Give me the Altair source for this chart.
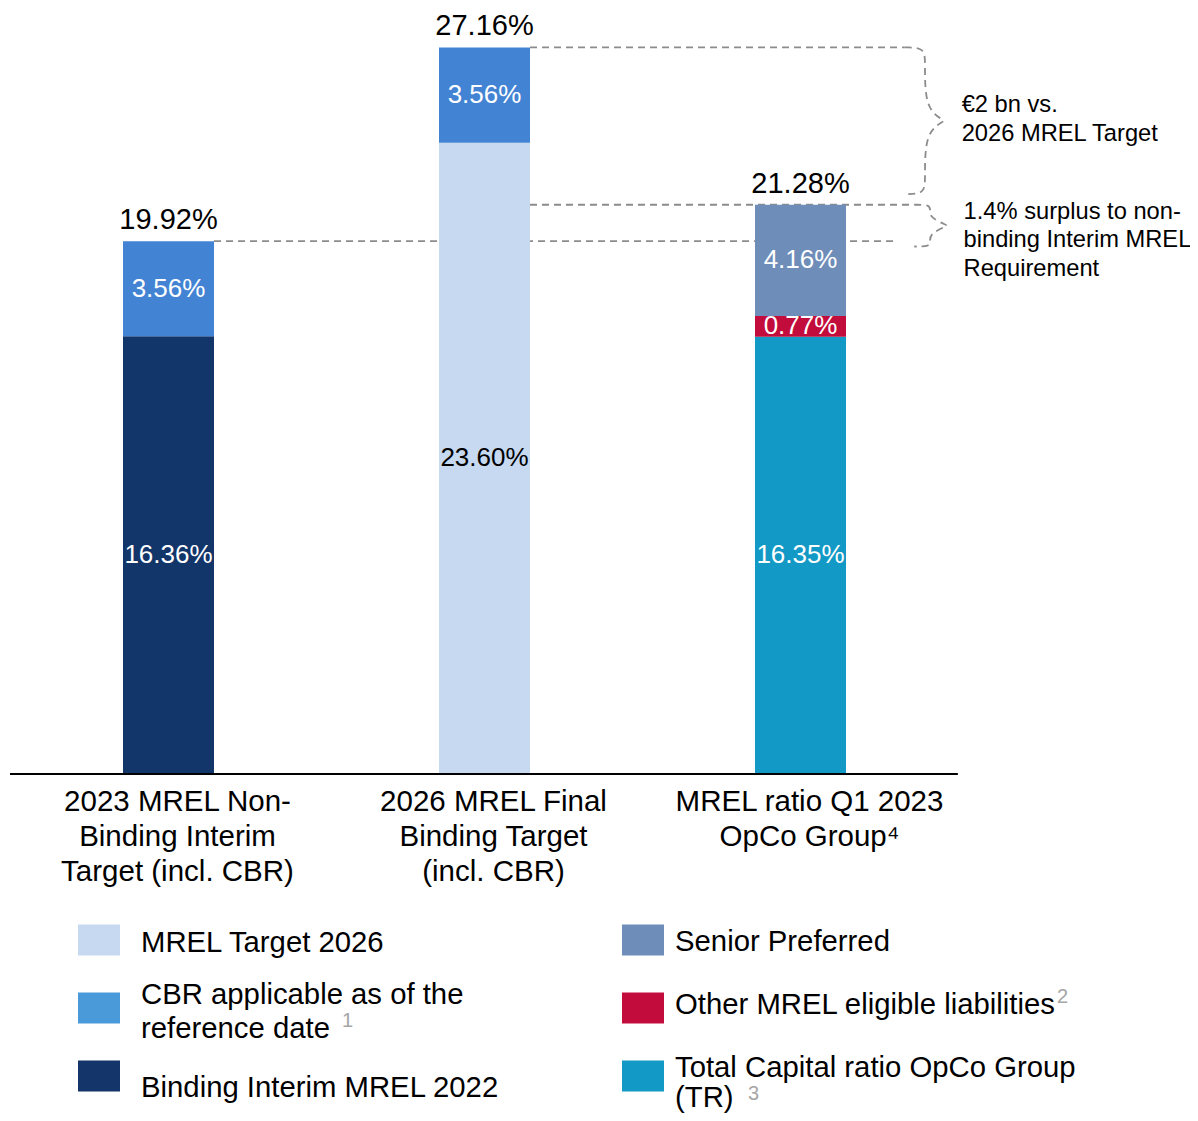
import altair as alt
import pandas as pd

# ---------------- data ----------------
category_lines = [
    ["2023 MREL Non-", "Binding Interim", "Target (incl. CBR)"],
    ["2026 MREL Final", "Binding Target", "(incl. CBR)"],
    ["MREL ratio Q1 2023", "OpCo Group⁴"],
]
seg_bar = [0, 0, 1, 1, 2, 2, 2]
seg_name = [
    "Binding Interim MREL 2022", "CBR applicable as of the reference date",
    "MREL Target 2026", "CBR applicable as of the reference date",
    "Total Capital ratio OpCo Group (TR)", "Other MREL eligible liabilities", "Senior Preferred",
]
seg_value = [16.36, 3.56, 23.60, 3.56, 16.35, 0.77, 4.16]
seg_order = [0, 1, 0, 1, 0, 1, 2]
totals = [19.92, 27.16, 21.28]

series_names = [
    "MREL Target 2026", "CBR applicable as of the reference date", "Binding Interim MREL 2022",
    "Senior Preferred", "Other MREL eligible liabilities", "Total Capital ratio OpCo Group (TR)",
]
bar_colors = ["#c6d9f0", "#4383d3", "#12356a", "#6e8db9", "#c20c3c", "#1399c5"]
legend_colors = ["#c6d9f0", "#4a9ad9", "#13356a", "#6e8db9", "#c20c3c", "#1399c5"]
legend_lines = [
    ["MREL Target 2026"], ["CBR applicable as of the", "reference date"], ["Binding Interim MREL 2022"],
    ["Senior Preferred"], ["Other MREL eligible liabilities"], ["Total Capital ratio OpCo Group", "(TR)"],
]
legend_col = [0, 0, 0, 1, 1, 1]
legend_row = [0, 1, 2, 0, 1, 2]
footnote_series = ["CBR applicable as of the reference date", "Other MREL eligible liabilities",
                   "Total Capital ratio OpCo Group (TR)"]
footnote_marks = ["1", "2", "3"]
annot_top = ["€2 bn vs.", "2026 MREL Target"]
annot_bottom = ["1.4% surplus to non-", "binding Interim MREL", "Requirement"]

# ---------------- layout ----------------
FONT = "Liberation Sans"
W, H = 1182, 1105
CAT_PX = 316.0
X0 = -160.5 / CAT_PX
X1 = X0 + W / CAT_PX
K = 26.75
BASE = 766.0
YMAX = BASE / K
YMIN = -(H - BASE) / K
HALF = 45.5 / CAT_PX

xs = alt.Scale(domain=[X0, X1], nice=False, zero=False, padding=0)
ys = alt.Scale(domain=[YMIN, YMAX], nice=False, zero=False, padding=0)


def X(f):
    return alt.X(f, type="quantitative", scale=xs, axis=None)


def Y(f):
    return alt.Y(f, type="quantitative", scale=ys, axis=None)


bars = pd.DataFrame({"bar": seg_bar, "series": seg_name, "value": seg_value, "order": seg_order})
base = (
    alt.Chart(bars)
    .transform_stack(stack="value", as_=["y0", "y1"], groupby=["bar"],
                     sort=[alt.SortField("order", order="ascending")])
    .transform_calculate(mid="(datum.y0 + datum.y1) / 2",
                         label="format(datum.value, '.2f') + '%'")
)

# dashed guide lines (behind bars)
guides = pd.DataFrame({
    "start": [1 + HALF, 1 + HALF, 0 + HALF],
    "end": [2.33, 2.36, 2.30],
    "level": [totals[1], totals[2], totals[0]],
})
DASH = dict(color="#8c8c8c", strokeDash=[7, 5], strokeWidth=1.8)
guide_layer = alt.Chart(guides).mark_rule(**DASH).encode(
    x=X("start"), x2="end", y=Y("level"))


def brace(bid, top, bot, xe, xv, xt, r, r2):
    mid = (top + bot) / 2
    pts = [(xe, top), (xv, top), (xv, top - r), (xv, mid + r2), (xt, mid), (xt, mid),
           (xv, mid - r2), (xv, bot + r), (xv, bot), (xe, bot)]
    return [{"id": bid, "seq": i, "bx": p[0], "by": p[1]} for i, p in enumerate(pts)]


brace_rows = brace("a", totals[1], totals[2] + 0.4, 2.33, 2.394, 2.455, 0.6, 0.45) + \
    brace("b", totals[2], totals[0] - 0.2, 2.36, 2.41, 2.465, 0.2, 0.3)
brace_layer = alt.Chart(pd.DataFrame(brace_rows)).mark_line(interpolate="basis", **DASH).encode(
    x=X("bx"), y=Y("by"), detail="id:N", order="seq:Q")

bar_layer = base.mark_bar(size=91).encode(
    x=X("bar"), y=Y("y0"), y2="y1",
    color=alt.Color("series:N", scale=alt.Scale(domain=series_names, range=bar_colors), legend=None),
)
seg_labels = base.mark_text(fontSize=26, font=FONT, baseline="middle").encode(
    x=X("bar"), y=Y("mid"), text="label:N",
    color=alt.condition(alt.datum.series == "MREL Target 2026", alt.value("#000000"), alt.value("#ffffff")),
)

tot = pd.DataFrame({"bar": [0, 1, 2], "total": totals})
total_labels = alt.Chart(tot).transform_calculate(
    label="format(datum.total, '.2f') + '%'"
).mark_text(fontSize=29, font=FONT, baseline="middle", dy=-21, color="#000000").encode(
    x=X("bar"), y=Y("total"), text="label:N")

axis_df = pd.DataFrame({"a": [-0.5016], "b": [2.498], "z": [0.0]})
axis_layer = alt.Chart(axis_df).mark_rule(color="#000000", strokeWidth=2).encode(
    x=X("a"), x2="b", y=Y("z"))

cats = pd.DataFrame({"bar": [0, 1, 2], "lines": category_lines})
cat_labels = alt.Chart(cats).transform_calculate(z="0").mark_text(
    fontSize=29.5, font=FONT, baseline="top", align="center", dy=14, dx=9, lineHeight=35, color="#000000"
).encode(x=X("bar"), y=Y("z"), text="lines")

ann = pd.DataFrame({
    "lines": [annot_top, annot_bottom],
    "ax": [2.51, 2.516],
    "ay": [(totals[1] + totals[2] + 0.4) / 2, (totals[2] + totals[0] - 0.2) / 2],
    "k": [0, 1],
})
ann_top = alt.Chart(ann).transform_filter("datum.k == 0").mark_text(
    fontSize=23.7, font=FONT, align="left", baseline="middle", lineHeight=29, dy=-16, color="#000000"
).encode(x=X("ax"), y=Y("ay"), text="lines")
ann_bot = alt.Chart(ann).transform_filter("datum.k == 1").mark_text(
    fontSize=23.7, font=FONT, align="left", baseline="middle", lineHeight=28.5, dy=-14, color="#000000"
).encode(x=X("ax"), y=Y("ay"), text="lines")

# ---------------- custom legend ----------------
leg = pd.DataFrame({"series": series_names, "lines": legend_lines, "col": legend_col, "row": legend_row})
sw_x = alt.Scale(domain=[0, 1], range=[91, 635], padding=0)
sw_y = alt.Scale(domain=[0, 2], range=[932, 1068], padding=0)
tx_x = alt.Scale(domain=[0, 1], range=[133, 667], padding=0)
tl_y = alt.Scale(domain=[0, 2], range=[935, 1080], padding=0)
tr_y = alt.Scale(domain=[0, 2], range=[934, 1060], padding=0)

swatches = alt.Chart(leg).mark_point(
    shape="M-1.355,-1L1.355,-1L1.355,1L-1.355,1Z", size=961, filled=True, opacity=1, strokeWidth=0
).encode(
    x=alt.X("col:Q", scale=sw_x, axis=None),
    y=alt.Y("row:Q", scale=sw_y, axis=None),
    color=alt.Color("series:N", scale=alt.Scale(domain=series_names, range=legend_colors), legend=None),
)

LEG_TEXT = dict(fontSize=29.3, font=FONT, align="left", baseline="middle", color="#000000")
leg_left = alt.Chart(leg).transform_filter(
    "datum.col == 0 && length(datum.lines) == 1"
).mark_text(**LEG_TEXT).encode(
    x=alt.X("col:Q", scale=tx_x, axis=None), y=alt.Y("row:Q", scale=tl_y, axis=None), text="lines")
leg_left2 = alt.Chart(leg).transform_filter(
    "datum.col == 0 && length(datum.lines) > 1"
).mark_text(lineHeight=34, dy=-20.5, **LEG_TEXT).encode(
    x=alt.X("col:Q", scale=tx_x, axis=None), y=alt.Y("row:Q", scale=tl_y, axis=None), text="lines")
leg_right = alt.Chart(leg).transform_filter("datum.col == 1").mark_text(lineHeight=30, **LEG_TEXT).encode(
    x=alt.X("col:Q", scale=tx_x, axis=None), y=alt.Y("row:Q", scale=tr_y, axis=None), text="lines")

fn = pd.DataFrame({"series": footnote_series, "mark": footnote_marks})
fn = fn.merge(leg[["series", "col", "row"]], on="series")
fn_offsets = {"1": (201, 5, tl_y), "2": (382, -8, tr_y), "3": (73, 26, tr_y)}
fn_layers = []
for m in footnote_marks:
    dx, dy, sy = fn_offsets[m]
    fn_layers.append(
        alt.Chart(fn).transform_filter(alt.datum.mark == m).mark_text(
            fontSize=20, font=FONT, align="left", baseline="middle", color="#a6a6a6", dx=dx, dy=dy
        ).encode(
            x=alt.X("col:Q", scale=tx_x, axis=None),
            y=alt.Y("row:Q", scale=sy, axis=None),
            text="mark:N",
        )
    )

chart = alt.layer(
    guide_layer, brace_layer, bar_layer, seg_labels, total_labels, axis_layer, cat_labels,
    ann_top, ann_bot, swatches, leg_left, leg_left2, leg_right, *fn_layers
).resolve_scale(
    x="independent", y="independent", color="independent"
).properties(
    width=W, height=H, padding=0, background="#ffffff",
    autosize=alt.AutoSizeParams(type="none"),
).configure_view(stroke=None)

chart.save("out.html", embed_options={"renderer": "svg", "actions": False})
